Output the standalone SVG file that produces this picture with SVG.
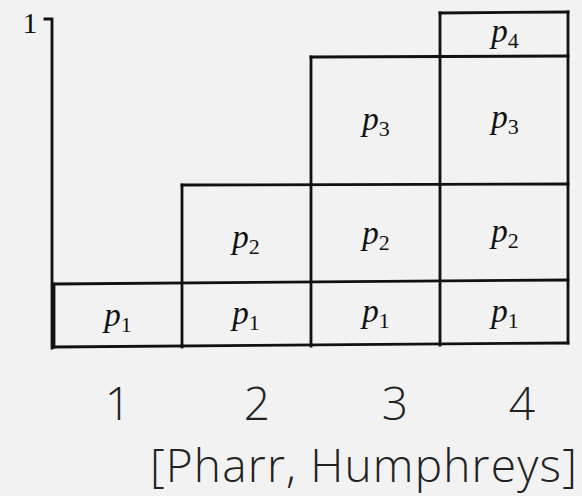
<svg xmlns="http://www.w3.org/2000/svg" width="582" height="496" viewBox="0 0 582 496">
<style>
.ln{stroke:#111;stroke-width:2.8;fill:none;stroke-linecap:square}
.p{font-family:"Liberation Serif",serif;font-style:italic;font-size:33px;fill:#111;text-anchor:middle}
.s{font-style:normal;font-size:22px}
.ax{font-family:"Open Sans",sans-serif;font-weight:300;font-size:46px;fill:#222;text-anchor:middle}
</style>
<rect width="582" height="496" fill="#f2f2f2"/>
<g id="axis">
<path class="ln" d="M45 19 H52 V348"/>
<text x="30" y="33" font-family="Liberation Serif,serif" font-size="30" fill="#111" text-anchor="middle">1</text>
</g>
<g id="connectors">
<path class="ln" d="M54 347 L568 343"/>
<path class="ln" d="M54 284 L568 280"/>
<path class="ln" d="M182 185 L568 184"/>
<path class="ln" d="M311 57 L568 56"/>
<path class="ln" d="M440 13 L568 12"/>
<path class="ln" d="M54 284 V347"/>
<path class="ln" d="M182 185 V347"/>
<path class="ln" d="M311 57 V346"/>
<path class="ln" d="M440 13 V345"/>
<path class="ln" d="M568 12 V343"/>
</g>
<g id="col1"><text class="p" x="118" y="326">p<tspan class="s" dy="6">1</tspan></text></g>
<g id="col2">
<text class="p" x="246" y="324">p<tspan class="s" dy="6">1</tspan></text>
<text class="p" x="246" y="248">p<tspan class="s" dy="6">2</tspan></text>
</g>
<g id="col3">
<text class="p" x="376" y="322">p<tspan class="s" dy="6">1</tspan></text>
<text class="p" x="376" y="244">p<tspan class="s" dy="6">2</tspan></text>
<text class="p" x="376" y="130">p<tspan class="s" dy="6">3</tspan></text>
</g>
<g id="col4">
<text class="p" x="505" y="322">p<tspan class="s" dy="6">1</tspan></text>
<text class="p" x="505" y="242">p<tspan class="s" dy="6">2</tspan></text>
<text class="p" x="505" y="128">p<tspan class="s" dy="6">3</tspan></text>
<text class="p" x="505" y="42">p<tspan class="s" dy="6">4</tspan></text>
</g>
<g id="labels">
<text class="ax" x="118" y="420">1</text>
<text class="ax" x="257" y="420">2</text>
<text class="ax" x="395" y="420">3</text>
<text class="ax" x="522" y="420">4</text>
<text class="ax" x="578" y="482" style="text-anchor:end;letter-spacing:1.2px">[Pharr, Humphreys]</text>
</g>
</svg>
